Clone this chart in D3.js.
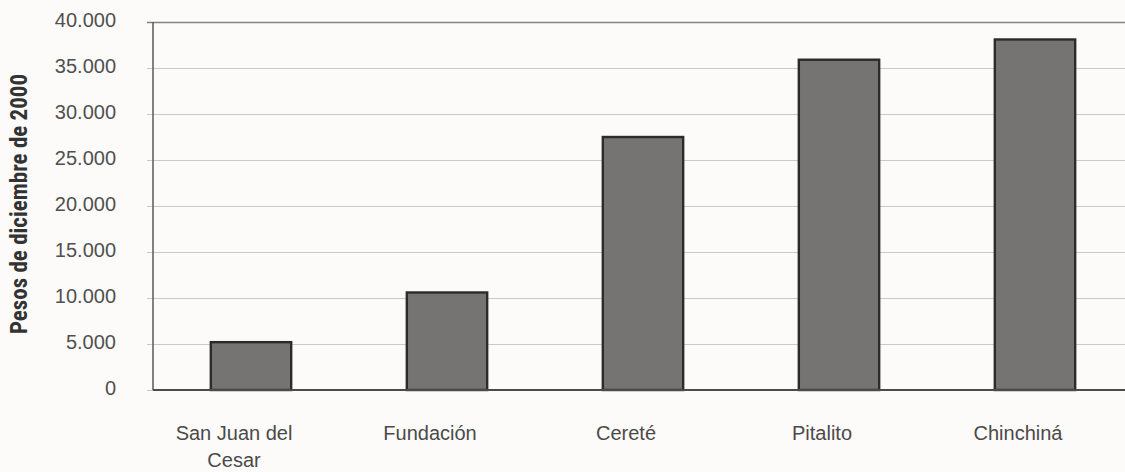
<!DOCTYPE html>
<html><head><meta charset="utf-8">
<script src="https://cdn.jsdelivr.net/npm/d3@7/dist/d3.min.js"></script>
<style>
html,body{margin:0;padding:0;background:#fcfbf9;}
svg{display:block;font-family:"Roboto Condensed","Liberation Sans Narrow",sans-serif;}
</style></head><body>
<svg id="chart" width="1125" height="472"></svg>
<script>
const categories = ["San Juan del\nCesar", "Fundación", "Cereté", "Pitalito", "Chinchiná"];
const values = [5200, 10600, 27500, 35900, 38100];
const yTicks = [0, 5000, 10000, 15000, 20000, 25000, 30000, 35000, 40000];
const yTitle = "Pesos de diciembre de 2000";

const svg = d3.select("#chart");
const m = {left:153, top:22, right:1133, bottom:390};

const x = d3.scaleBand().domain(categories).range([m.left, m.right]).paddingInner(0.59).paddingOuter(0.295);
const y = d3.scaleLinear().domain([0, 40000]).range([m.bottom, m.top]);
const fmt = d => d3.format(",")(d).replace(/,/g, ".");

// grid lines + tick labels
const yAxis = d3.axisLeft(y).tickValues(yTicks).tickSize(-(m.right - m.left)).tickSizeOuter(0).tickPadding(37).tickFormat(fmt);
const gy = svg.append("g").attr("transform", `translate(${m.left},0)`).call(yAxis);
gy.select(".domain").remove();
gy.selectAll(".tick line").attr("stroke", "#cbc9c6").attr("stroke-width", 1.2).attr("x1", -6);
gy.selectAll(".tick").filter(d => d === 40000).select("line").attr("stroke", "#858381").attr("stroke-width", 1.6);
gy.selectAll(".tick text").attr("fill", "#505050").attr("dy", "0.2em").style("font-size", "20px");

// left axis line
svg.append("line").attr("x1", m.left).attr("x2", m.left).attr("y1", y(40000)).attr("y2", y(0))
  .attr("stroke", "#5a5a5a").attr("stroke-width", 1.5);

// bars
svg.append("g").selectAll("rect").data(values).join("rect")
  .attr("x", (d, i) => x(categories[i]))
  .attr("y", d => y(d))
  .attr("width", x.bandwidth())
  .attr("height", d => y(0) - y(d))
  .attr("fill", "#767472")
  .attr("stroke", "#2b2b2b")
  .attr("stroke-width", 2.4);

// baseline
svg.append("line").attr("x1", m.left).attr("x2", m.right).attr("y1", y(0)).attr("y2", y(0))
  .attr("stroke", "#4a4a4a").attr("stroke-width", 1.8);

// x axis labels
const xAxis = d3.axisBottom(x).tickSize(0).tickPadding(0);
const gx = svg.append("g").attr("transform", `translate(-17,${m.bottom})`).call(xAxis);
gx.select(".domain").remove();
gx.selectAll(".tick text").each(function(d) {
  const t = d3.select(this).text(null).attr("fill", "#4a4a4a").style("font-size", "20px").attr("y", 0).attr("dy", null);
  d.split("\n").forEach((line, i) => {
    t.append("tspan").attr("x", 0).attr("y", 50 + i * 27).text(line);
  });
});

// y title
svg.append("text").attr("transform", `translate(27,${(72 + 336) / 2}) rotate(-90)`)
  .attr("text-anchor", "middle").attr("fill", "#333").style("font-size", "23px").style("font-weight", "bold")
  .text(yTitle);
</script>
</body></html>
